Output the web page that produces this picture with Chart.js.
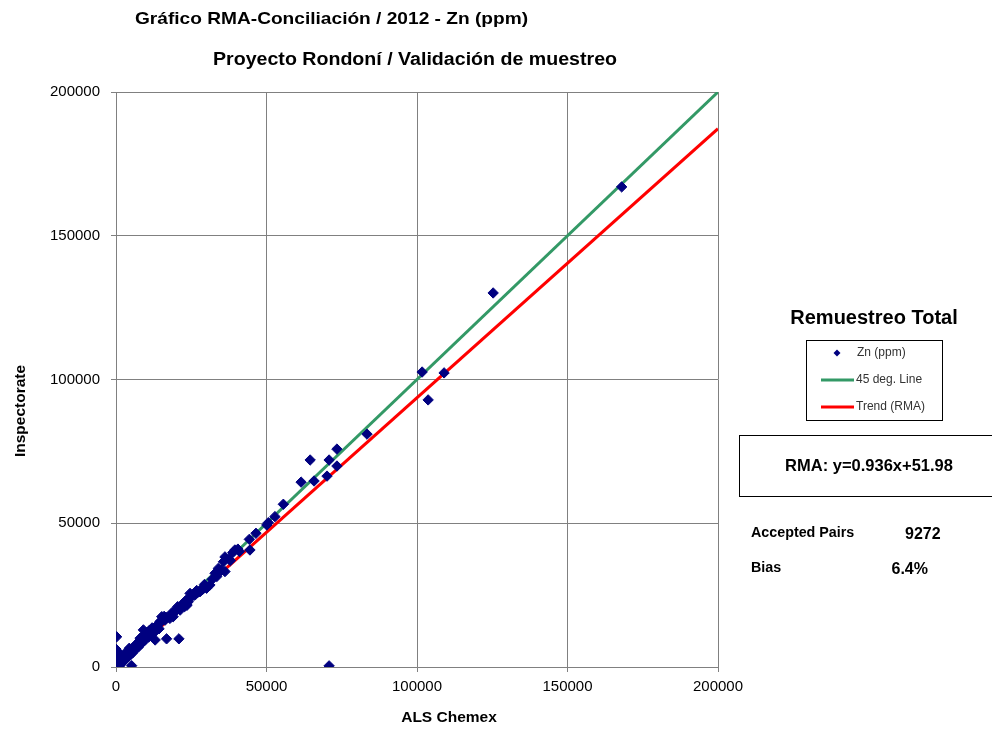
<!DOCTYPE html>
<html>
<head>
<meta charset="utf-8">
<script src="https://cdn.jsdelivr.net/npm/chart.js@4/dist/chart.umd.min.js"></script>
<style>
  html, body { margin: 0; padding: 0; background: #ffffff; }
  #wrap { position: relative; width: 992px; height: 729px; }
  canvas { display: block; }
</style>
</head>
<body>
<div id="wrap"><canvas id="c" width="992" height="729"></canvas></div>
<script>
// Zn (ppm) pairs: ALS Chemex (x) vs Inspectorate (y)
const alsChemex = [
  0, 150, 300, 500, 200, 100, 400, 0, 250, 100, 0, 200,
  800, 1000, 1200, 1500, 1800, 2000, 2300, 2600, 2800, 3000, 3300, 3500,
  3800, 4000, 4200, 4500, 4800, 5000, 5300, 5200, 5500, 5800, 6000, 6300,
  6600, 7000, 7300, 7600, 8000, 8000, 8400, 8800, 9100, 9300, 9700, 10000,
  10500, 11000, 11400, 11900, 12400, 12400, 13000, 13400, 14000, 14600, 15200, 15700,
  16300, 16800, 16800, 17900, 18400, 19000, 19600, 20200, 20900, 21300, 21800, 22400,
  23000, 23600, 24000, 24600, 25200, 26200, 27000, 27900, 28800, 30100, 31200, 32000,
  32900, 34000, 35000, 35700, 36200, 36200, 37500, 38800, 39500, 41000, 44300, 44500,
  46500, 50100, 50600, 52800, 55600, 61500, 64500, 65800, 70100, 70800, 73400, 73400,
  70800, 83400, 101700, 103700, 109000, 125300, 168000,
  0, 0, 0, 0, 100, 300, 600, 900, 1300, 700, 1600, 2100,
  2500, 3100, 3600, 4100, 4400, 4700, 5600, 6100, 6800, 7500, 7900, 8600,
  9500, 10200, 10800, 11200, 11700, 12000, 12800, 13800, 14300, 16000, 18700, 20500,
  22800, 23300, 25600, 26800, 28200, 29400, 33500, 38000, 40500
];
const inspectorate = [
  0, 300, 800, 200, 1500, 2500, 3200, 4000, 4800, 5600, 6200, 10500,
  700, 1300, 400, 1800, 1200, 2300, 1900, 2800, 2200, 3400, 2900, 3800,
  3300, 4300, 5300, 4000, 5000, 4500, 5900, 450, 6300, 5600, 7100, 6500,
  7600, 6900, 8200, 7700, 9000, 10000, 8600, 9600, 12900, 11200, 10600, 12000,
  11600, 12600, 11900, 13200, 13400, 11800, 9400, 13900, 14900, 15800, 17500, 16400,
  16300, 17200, 9800, 16900, 18300, 17500, 19300, 19900, 9800, 19800, 21600, 22100,
  22800, 21500, 22700, 25600, 24600, 25000, 25800, 26200, 27000, 27400, 28500, 30500,
  32600, 34300, 33600, 36600, 33200, 38300, 37600, 39800, 40700, 40200, 44400, 40700,
  46500, 49400, 50200, 52300, 56600, 64300, 72000, 64700, 66400, 72000, 69900, 75800,
  400, 81000, 102600, 92900, 102300, 130100, 167000,
  1000, 2000, 3000, 5000, 3600, 4500, 5200, 2600, 3600, 1300, 2600, 3100,
  4200, 3900, 4800, 5800, 6500, 6000, 5000, 6200, 8000, 7000, 9200, 8300,
  9200, 10900, 10400, 12700, 11000, 13600, 12200, 14400, 13300, 17600, 19000, 21000,
  21000, 23200, 25000, 26600, 26900, 28700, 31500, 37000, 41000
];

// Axis range and the RMA fit
const axisMin = 0;
const axisMax = 200000;
const tickStep = 50000;
const rmaSlope = 0.936;
const rmaIntercept = 51.98;

const titleMain = 'Gráfico RMA-Conciliación / 2012 - Zn (ppm)';
const titleSub = 'Proyecto Rondoní / Validación de muestreo';
const xAxisTitle = 'ALS Chemex';
const yAxisTitle = 'Inspectorate';
const panelTitle = 'Remuestreo Total';
const rmaText = 'RMA: y=' + rmaSlope + 'x+' + rmaIntercept;
const pairsLabel = 'Accepted Pairs';
const pairsValue = '9272';
const biasLabel = 'Bias';
const biasValue = '6.4%';

const scatterPoints = alsChemex.map((x, i) => ({ x: x, y: inspectorate[i] }));
const lineXs = [axisMin, axisMax];
const diagPoints = lineXs.map(x => ({ x: x, y: x }));
const rmaPoints = lineXs.map(x => ({ x: x, y: rmaSlope * x + rmaIntercept }));

const FONT = '"Liberation Sans", Arial, sans-serif';

// Draws a text line stretched horizontally between two x positions
function spanText(ctx, text, x0, x1, y, font) {
  ctx.save();
  ctx.font = font;
  ctx.textAlign = 'left';
  const w = ctx.measureText(text).width;
  ctx.translate(x0, y);
  ctx.scale((x1 - x0) / w, 1);
  ctx.fillText(text, 0, 0);
  ctx.restore();
}

// Titles, axis titles, legend box and the statistics panel
const annotations = {
  id: 'annotations',
  afterDraw(chart) {
    const ctx = chart.ctx;
    ctx.save();
    ctx.fillStyle = '#000';
    ctx.textBaseline = 'middle';

    spanText(ctx, titleMain, 135, 528, 19, 'bold 17px ' + FONT);
    spanText(ctx, titleSub, 213, 617, 60, 'bold 18px ' + FONT);

    ctx.textAlign = 'center';
    ctx.font = 'bold 15.5px ' + FONT;
    ctx.fillText(xAxisTitle, 449, 718);
    ctx.save();
    ctx.translate(21, 411);
    ctx.rotate(-Math.PI / 2);
    ctx.fillText(yAxisTitle, 0, 0);
    ctx.restore();

    // right panel
    ctx.font = 'bold 20px ' + FONT;
    ctx.fillText(panelTitle, 874, 318);

    // legend box
    ctx.strokeStyle = '#000';
    ctx.lineWidth = 1;
    ctx.strokeRect(806.5, 340.5, 136, 80);
    const ds = chart.data.datasets;
    ctx.textAlign = 'left';
    ctx.font = '12px ' + FONT;
    ctx.fillStyle = ds[0].backgroundColor;
    ctx.beginPath();
    ctx.moveTo(837, 349.5); ctx.lineTo(840.5, 353); ctx.lineTo(837, 356.5); ctx.lineTo(833.5, 353);
    ctx.closePath(); ctx.fill();
    ctx.fillStyle = '#333';
    ctx.fillText(ds[0].label, 857, 353);
    [[ds[1], 380], [ds[2], 407]].forEach(([d, y]) => {
      ctx.strokeStyle = d.borderColor;
      ctx.lineWidth = 3;
      ctx.beginPath(); ctx.moveTo(821, y); ctx.lineTo(854, y); ctx.stroke();
      ctx.fillStyle = '#333';
      ctx.fillText(d.label, 856, y);
    });

    // RMA equation box
    ctx.strokeStyle = '#000';
    ctx.lineWidth = 1;
    ctx.strokeRect(739.5, 435.5, 260, 61);
    ctx.fillStyle = '#000';
    ctx.textAlign = 'center';
    ctx.font = 'bold 16.5px ' + FONT;
    ctx.fillText(rmaText, 869, 466);

    ctx.textAlign = 'left';
    ctx.font = 'bold 14.3px ' + FONT;
    ctx.fillText(pairsLabel, 751, 533);
    ctx.fillText(biasLabel, 751, 568);
    ctx.font = 'bold 16px ' + FONT;
    ctx.fillText(pairsValue, 905, 535);
    ctx.fillText(biasValue, 891.5, 570);
    ctx.restore();
  }
};

new Chart(document.getElementById('c'), {
  type: 'scatter',
  data: {
    datasets: [
      {
        label: 'Zn (ppm)',
        data: scatterPoints,
        pointStyle: 'rectRot',
        pointRadius: 5.2,
        pointHoverRadius: 5.2,
        backgroundColor: '#000080',
        borderColor: '#000080',
        borderWidth: 1,
        order: 1
      },
      {
        label: '45 deg. Line',
        type: 'line',
        data: diagPoints,
        borderColor: '#339966',
        borderWidth: 3,
        pointRadius: 0,
        fill: false,
        order: 3
      },
      {
        label: 'Trend (RMA)',
        type: 'line',
        data: rmaPoints,
        borderColor: '#ff0000',
        borderWidth: 3,
        pointRadius: 0,
        fill: false,
        order: 2
      }
    ]
  },
  options: {
    responsive: false,
    animation: false,
    events: [],
    layout: { padding: { left: 0, top: 92, right: 274, bottom: 0 } },
    plugins: {
      legend: { display: false },
      title: { display: false },
      tooltip: { enabled: false }
    },
    scales: {
      x: {
        type: 'linear',
        min: axisMin,
        max: axisMax,
        afterFit(scale) { scale.height = 62; },
        ticks: {
          stepSize: tickStep,
          padding: 6,
          color: '#000',
          font: { family: FONT, size: 15 },
          maxRotation: 0,
          callback: v => String(v)
        },
        grid: { color: '#808080', lineWidth: 1, tickLength: 5, drawTicks: true },
        border: { color: '#808080', width: 1 }
      },
      y: {
        type: 'linear',
        min: axisMin,
        max: axisMax,
        afterFit(scale) { scale.width = 116; },
        ticks: {
          stepSize: tickStep,
          padding: 11,
          color: '#000',
          font: { family: FONT, size: 15 },
          callback: v => String(v)
        },
        grid: { color: '#808080', lineWidth: 1, tickLength: 5, drawTicks: true },
        border: { color: '#808080', width: 1 }
      }
    }
  },
  plugins: [annotations]
});
</script>
</body>
</html>
